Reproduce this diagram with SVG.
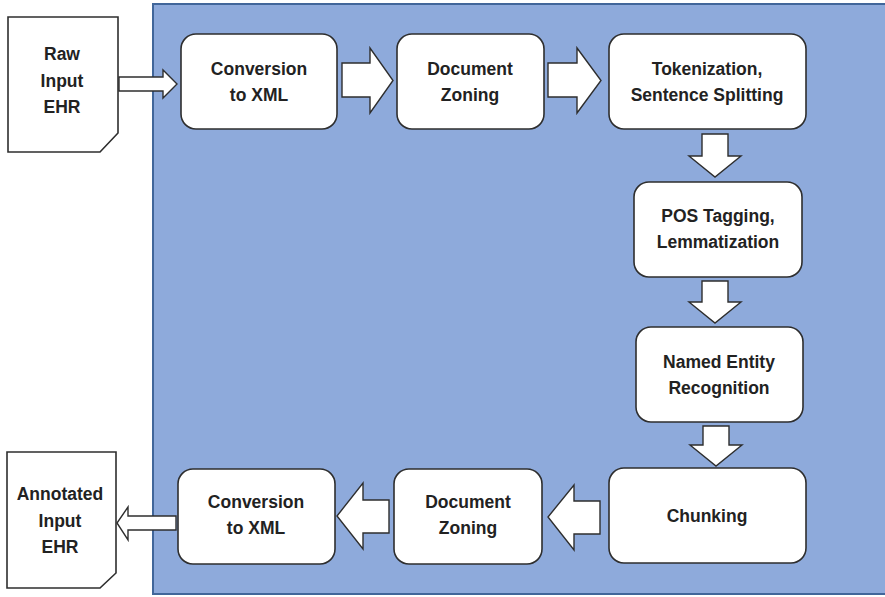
<svg xmlns="http://www.w3.org/2000/svg" width="885" height="597" viewBox="0 0 885 597">
  <style>
    .panel { fill: #8eaadb; stroke: #41669a; stroke-width: 2; }
    .box { fill: #ffffff; stroke: #2e2e2e; stroke-width: 1.6; }
    .doc { fill: #ffffff; stroke: #2e2e2e; stroke-width: 1.6; }
    .arrow { fill: #ffffff; stroke: #2e2e2e; stroke-width: 1.4; stroke-linejoin: miter; }
    .label { font-family: "Liberation Sans", Arial, sans-serif; font-weight: bold; font-size: 17.5px; fill: #222222; text-anchor: middle; }
  </style>
  <rect width="885" height="597" fill="#ffffff"/>

  <!-- processing pipeline panel -->
  <rect class="panel" x="153" y="4" width="740" height="590"/>

  <!-- input / output documents -->
  <g id="raw-input">
    <path class="doc" d="M8,17 H118 V133 L100,152 H8 Z"/>
    <text class="label" x="62" y="60">Raw</text>
    <text class="label" x="62" y="87">Input</text>
    <text class="label" x="62" y="113">EHR</text>
  </g>
  <g id="annotated-output">
    <path class="doc" d="M7,452 H116 V573 L100,588 H7 Z"/>
    <text class="label" x="60" y="500">Annotated</text>
    <text class="label" x="60" y="527">Input</text>
    <text class="label" x="60" y="553">EHR</text>
  </g>

  <!-- top row -->
  <g id="conversion-in">
    <rect class="box" x="181" y="34" width="156" height="95" rx="15"/>
    <text class="label" x="259" y="75">Conversion</text>
    <text class="label" x="259" y="101">to XML</text>
  </g>
  <g id="zoning-in">
    <rect class="box" x="397" y="34" width="147" height="95" rx="15"/>
    <text class="label" x="470" y="75">Document</text>
    <text class="label" x="470" y="101">Zoning</text>
  </g>
  <g id="tokenization">
    <rect class="box" x="609" y="34" width="197" height="95" rx="15"/>
    <text class="label" x="707" y="75">Tokenization,</text>
    <text class="label" x="707" y="101">Sentence Splitting</text>
  </g>

  <!-- right column -->
  <g id="pos-tagging">
    <rect class="box" x="634" y="182" width="168" height="95" rx="15"/>
    <text class="label" x="718" y="222">POS Tagging,</text>
    <text class="label" x="718" y="248">Lemmatization</text>
  </g>
  <g id="ner">
    <rect class="box" x="636" y="327" width="167" height="95" rx="15"/>
    <text class="label" x="719" y="368">Named Entity</text>
    <text class="label" x="719" y="394">Recognition</text>
  </g>

  <!-- bottom row -->
  <g id="chunking">
    <rect class="box" x="609" y="468" width="197" height="95" rx="15"/>
    <text class="label" x="707" y="522">Chunking</text>
  </g>
  <g id="zoning-out">
    <rect class="box" x="394" y="469" width="148" height="95" rx="15"/>
    <text class="label" x="468" y="508">Document</text>
    <text class="label" x="468" y="534">Zoning</text>
  </g>
  <g id="conversion-out">
    <rect class="box" x="178" y="469" width="157" height="95" rx="15"/>
    <text class="label" x="256" y="508">Conversion</text>
    <text class="label" x="256" y="534">to XML</text>
  </g>

  <!-- block arrows -->
  <g id="connectors">
    <!-- raw input -> conversion -->
    <path class="arrow" d="M119,77 H163 V70 L177,84 L163,98 V91 H119 Z"/>
    <!-- conversion -> zoning -->
    <path class="arrow" d="M342,63 H370 V48 L393,80.5 L370,113 V97 H342 Z"/>
    <!-- zoning -> tokenization -->
    <path class="arrow" d="M548,63 H577 V48 L601,80.5 L577,113 V97 H548 Z"/>
    <!-- tokenization -> pos -->
    <path class="arrow" d="M702,134 H728 V156 H741 L715,177 L689,156 H702 Z"/>
    <!-- pos -> ner -->
    <path class="arrow" d="M702,281 H728 V302 H741 L715,323 L689,302 H702 Z"/>
    <!-- ner -> chunking -->
    <path class="arrow" d="M703,426 H729 V445 H742 L716,466 L690,445 H703 Z"/>
    <!-- chunking -> zoning -->
    <path class="arrow" d="M600,501 H574 V485 L548,517 L574,550 V534 H600 Z"/>
    <!-- zoning -> conversion -->
    <path class="arrow" d="M389,500 H363 V483 L337,516 L363,549 V533 H389 Z"/>
    <!-- conversion -> annotated output -->
    <path class="arrow" d="M176,516 H128 V507 L117,523 L128,540 V530 H176 Z"/>
  </g>
</svg>
